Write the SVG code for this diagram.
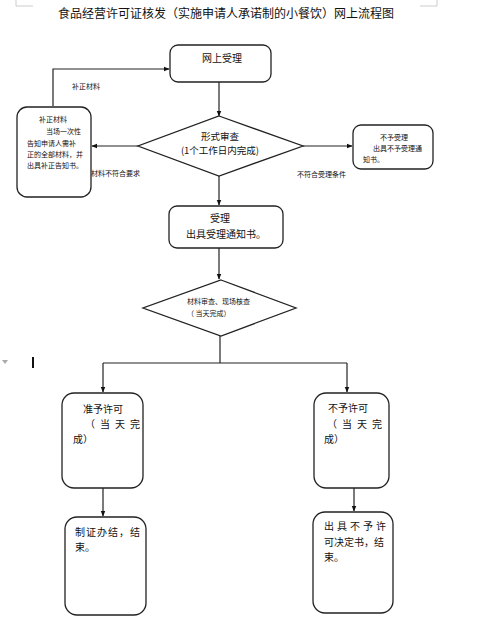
<svg xmlns="http://www.w3.org/2000/svg" width="496" height="627" viewBox="0 0 496 627">
<defs>
<marker id="ah" viewBox="0 0 10 10" refX="9" refY="5" markerWidth="6" markerHeight="6" orient="auto" markerUnits="userSpaceOnUse">
<path d="M0,1 L10,5 L0,9 z" fill="#111"/>
</marker>
<style>
.box{fill:#fff;stroke:#222;stroke-width:1.3}
.ln{fill:none;stroke:#222;stroke-width:1.2}
.t{font-family:"Noto Sans CJK SC","Liberation Sans",sans-serif;fill:#111}
.m{font-size:10px}
.d{font-size:9.5px}
.s{font-size:7px}
.title{font-size:12px}
</style>
</defs>
<rect width="496" height="627" fill="#fff"/>
<path d="M16,6 H33 M16,0 V6 M420,6 H437 M437,0 V6" stroke="#ccc" stroke-width="1" fill="none"/>
<text class="t title" x="226" y="18" text-anchor="middle">食品经营许可证核发（实施申请人承诺制的小餐饮）网上流程图</text>
<path d="M2,360 L8,360 L5,364 z" fill="#aaa"/>
<rect x="32" y="357" width="2" height="11" fill="#111"/>

<g id="connectors">
<path class="ln" d="M219,82 V116" marker-end="url(#ah)"/>
<path class="ln" d="M138,146 H92" marker-end="url(#ah)"/>
<path class="ln" d="M53,106 V69 H169" marker-end="url(#ah)"/>
<path class="ln" d="M303,146 H352" marker-end="url(#ah)"/>
<path class="ln" d="M219,176 V205" marker-end="url(#ah)"/>
<path class="ln" d="M219,248 V279" marker-end="url(#ah)"/>
<path class="ln" d="M220,336 V363"/>
<path class="ln" d="M103,363 H347"/>
<path class="ln" d="M103,363 V392" marker-end="url(#ah)"/>
<path class="ln" d="M347,363 V392" marker-end="url(#ah)"/>
<path class="ln" d="M103,488 V516" marker-end="url(#ah)"/>
<path class="ln" d="M354,488 V511" marker-end="url(#ah)"/>
<text class="t s" x="72" y="89">补正材料</text>
<text class="t s" x="91" y="176">材料不符合要求</text>
<text class="t s" x="297" y="177">不符合受理条件</text>
</g>

<g id="online">
<rect class="box" x="170" y="45" width="101" height="37" rx="8"/>
<text class="t m" x="222" y="62" text-anchor="middle">网上受理</text>
</g>

<g id="review">
<path class="box" d="M219,116 L303,146 L219,176 L138,146 z"/>
<text class="t d" x="220" y="140" text-anchor="middle">形式审查</text>
<text class="t d" x="220" y="154" text-anchor="middle">(1个工作日内完成)</text>
</g>

<g id="supplement">
<rect class="box" x="17" y="107" width="74" height="90" rx="10"/>
<text class="t s" x="53" y="122" text-anchor="middle">补正材料</text>
<text class="t s" x="46" y="134">当场一次性</text>
<text class="t s" x="27" y="146">告知申请人需补</text>
<text class="t s" x="27" y="157">正的全部材料，并</text>
<text class="t s" x="27" y="168">出具补正告知书。</text>
</g>

<g id="reject">
<rect class="box" x="353" y="125" width="80" height="44" rx="8"/>
<text class="t s" x="394" y="140" text-anchor="middle">不予受理</text>
<text class="t s" x="373" y="151">出具不予受理通</text>
<text class="t s" x="363" y="162">知书。</text>
</g>

<g id="accept">
<rect class="box" x="169" y="206" width="114" height="42" rx="8"/>
<text class="t m" x="220" y="222" text-anchor="middle">受理</text>
<text class="t m" x="226" y="238" text-anchor="middle">出具受理通知书。</text>
</g>

<g id="check">
<path class="box" d="M221,280 L296,308 L221,336 L143,308 z"/>
<text class="t s" x="187" y="304">材料审查、现场核查</text>
<text class="t s" x="187" y="316">（    当天完成）</text>
</g>

<g id="approve">
<rect class="box" x="62" y="393" width="81" height="95" rx="12"/>
<text class="t m" x="83" y="413">准予许可</text>
<text class="t m" x="85" y="428" letter-spacing="5">（当天完</text>
<text class="t m" x="73" y="443">成）</text>
</g>

<g id="deny">
<rect class="box" x="314" y="393" width="75" height="95" rx="12"/>
<text class="t m" x="328" y="412">不予许可</text>
<text class="t m" x="327" y="428" letter-spacing="5">（当天完</text>
<text class="t m" x="324" y="443">成）</text>
</g>

<g id="issue">
<rect class="box" x="65" y="517" width="81" height="98" rx="12"/>
<text class="t m" x="75" y="536" letter-spacing="1">制证办结，结</text>
<text class="t m" x="75" y="551">束。</text>
</g>

<g id="denydoc">
<rect class="box" x="313" y="512" width="80" height="101" rx="12"/>
<text class="t m" x="324" y="530" letter-spacing="3">出具不予许</text>
<text class="t m" x="324" y="546">可决定书，结</text>
<text class="t m" x="324" y="561">束。</text>
</g>
</svg>
